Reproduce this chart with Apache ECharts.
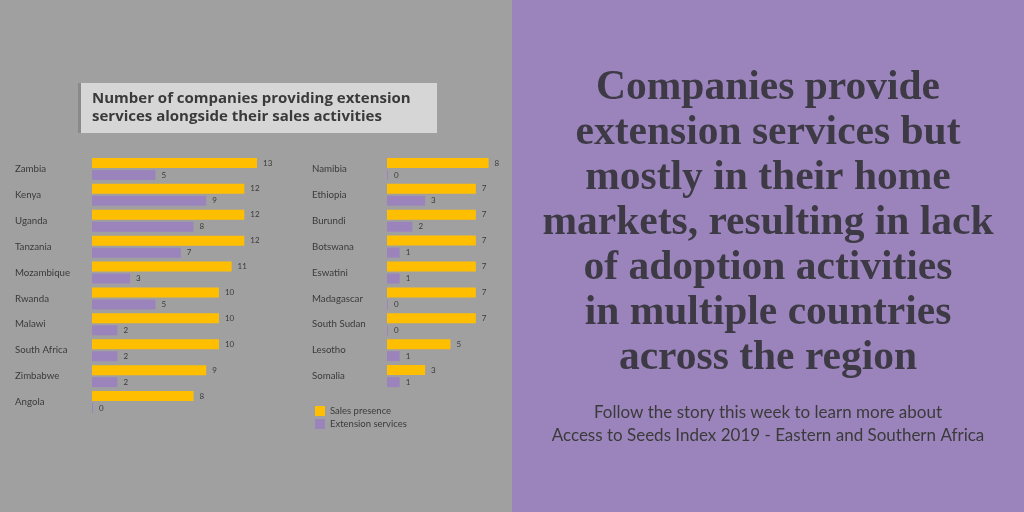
<!DOCTYPE html><html><head><meta charset="utf-8"><script src="https://cdn.jsdelivr.net/npm/echarts@6/dist/echarts.min.js"></script>
<style>html,body{margin:0;padding:0}#c{width:1024px;height:512px}</style></head><body><div id="c"></div><script>
const catsA=['Zambia','Kenya','Uganda','Tanzania','Mozambique','Rwanda','Malawi','South Africa','Zimbabwe','Angola'];
const salesA=[13,12,12,12,11,10,10,10,9,8];
const extA=[5,9,8,7,3,5,2,2,2,0];
const catsB=['Namibia','Ethiopia','Burundi','Botswana','Eswatini','Madagascar','South Sudan','Lesotho','Somalia'];
const salesB=[8,7,7,7,7,7,7,5,3];
const extB=[0,3,2,1,1,0,0,1,1];
const headline=['Companies provide','extension services but','mostly in their home','markets, resulting in lack','of adoption activities','in multiple countries','across the region'];
const sub=['Follow the story this week to learn more about','Access to Seeds Index 2019 - Eastern and Southern Africa'];
const Y='#ffbf00',P='#9b84bb',T='#3a3a3a';
const ch=echarts.init(document.getElementById('c'));
function grid(i){return {left:i?387:92,top:156,width:165,height:i?233:259};}
function xa(i){return {gridIndex:i,type:'value',min:0,max:13,show:false};}
function ya(i,c){return {gridIndex:i,type:'category',data:c,inverse:true,axisLine:{show:false},axisTick:{show:false},
 axisLabel:{align:'left',margin:i?75:77,color:T,fontSize:9.7,fontFamily:'Lato'}};}
function s(name,d,i,col){return {name,type:'bar',xAxisIndex:i,yAxisIndex:i,data:d,barWidth:10,barGap:'20%',itemStyle:{color:col},barMinHeight:1,
 label:{show:true,position:'right',color:T,fontSize:8,fontFamily:'Lato',distance:6}};}
const g=[{type:'rect',shape:{x:0,y:0,width:512,height:512},style:{fill:'#a0a0a0'},z:-10},
{type:'rect',shape:{x:512,y:0,width:512,height:512},style:{fill:P},z:-10},
{type:'rect',shape:{x:78,y:83,width:359,height:50},style:{fill:'#d6d6d6'}},
{type:'rect',shape:{x:78,y:83,width:3,height:50},style:{fill:'#8a8a8a'}},
{type:'text',x:92,y:90,style:{text:'Number of companies providing extension\nservices alongside their sales activities',fill:T,font:'bold 15px "Open Sans"',lineHeight:18}}];
headline.forEach((t,i)=>g.push({type:'text',x:768,y:88+i*45,style:{text:t,fill:'#3d3a45',font:'bold 41.5px "Liberation Serif"',textAlign:'center',textVerticalAlign:'middle'}}));
sub.forEach((t,i)=>g.push({type:'text',x:768,y:413+i*23,style:{text:t,fill:T,font:'17px Lato',textAlign:'center',textVerticalAlign:'middle'}}));
ch.setOption({animation:false,graphic:g,grid:[grid(0),grid(1)],xAxis:[xa(0),xa(1)],yAxis:[ya(0,catsA),ya(1,catsB)],
legend:{left:310,top:401,orient:'vertical',itemWidth:10,itemHeight:10,itemGap:3,icon:'rect',textStyle:{color:T,fontSize:9.5,fontFamily:'Lato'},data:['Sales presence','Extension services']},
series:[s('Sales presence',salesA,0,Y),s('Extension services',extA,0,P),s('Sales presence',salesB,1,Y),s('Extension services',extB,1,P)]});
</script></body></html>
